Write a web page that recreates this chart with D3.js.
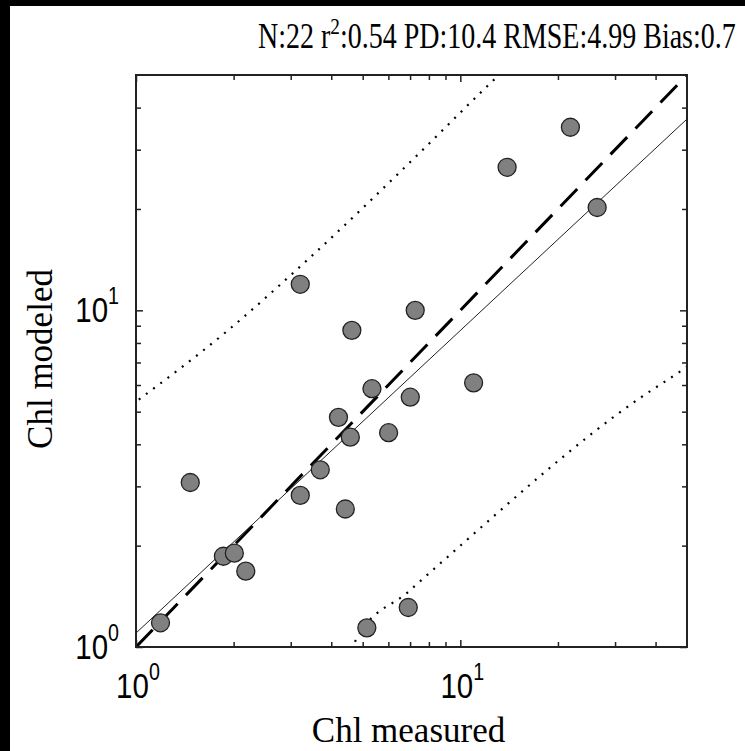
<!DOCTYPE html>
<html>
<head>
<meta charset="utf-8">
<script src="https://cdn.jsdelivr.net/npm/d3@7"></script>
<style>
    body { margin: 0; background: #000; }
</style>
</head>
<body>
<div id="chart"></div>
<script>
// measured vs modeled chlorophyll
const measured = [1.19, 1.47, 1.86, 2.01, 2.18, 3.21, 3.21, 3.70, 4.42, 4.21, 4.58,
    4.63, 5.34, 6.01, 7.01, 7.26, 5.15, 6.91, 10.99, 13.94, 21.85, 26.42];
const modeled = [1.18, 3.08, 1.86, 1.90, 1.68, 2.82, 11.95, 3.36, 2.57, 4.81, 4.20,
    8.72, 5.85, 4.33, 5.52, 10.0, 1.14, 1.31, 6.09, 26.6, 34.98, 20.2];

// 1:1 line, regression fit and the two dotted bounds
const oneToOneX = [1, 50];
const oneToOneY = [1, 50];
const fitX = [1, 50];
const fitY = [1.10, 37.0];
const upperX = [1.02, 1.91, 3.40, 7.26, 12.5, 13.3];
const upperY = [5.43, 8.68, 14.2, 28.5, 47.7, 50.5];
const lowerX = [4.6, 4.80, 6.92, 8.78, 35.9, 48.7, 50];
const lowerY = [0.98, 1.064, 1.46, 1.79, 5.50, 6.68, 6.8];

const majorTicks = [1, 10];
const minorTicks = [2, 3, 4, 5, 6, 7, 8, 9, 20, 30, 40];
const tickExponents = ['0', '1'];

const title = { pre: 'N:22 r', sup: '2', post: ':0.54 PD:10.4 RMSE:4.99 Bias:0.7' };
const xLabel = 'Chl measured';
const yLabel = 'Chl modeled';

const width = 745, height = 751;
const plot = { left: 136, right: 687, top: 75, bottom: 647 };
const squeeze = 0.82;  // the picture is a bit narrower than tall

const svg = d3.select('#chart')
    .append('svg')
    .attr('width', width)
    .attr('height', height)

svg.append('rect').attr('width', width).attr('height', height).attr('fill', '#000')
svg.append('rect')
    .attr('x', 10).attr('y', 6)
    .attr('width', width - 10).attr('height', height - 6)
    .attr('fill', '#fff')

const x = d3.scaleLog().domain([1, 50]).range([plot.left, plot.right]);
const y = d3.scaleLog().domain([1, 50]).range([plot.bottom, plot.top]);

svg.append('clipPath').attr('id', 'clip')
    .append('rect')
    .attr('x', plot.left).attr('y', plot.top)
    .attr('width', plot.right - plot.left).attr('height', plot.bottom - plot.top)

const lines = svg.append('g').attr('clip-path', 'url(#clip)')

const line = d3.line()
    .x(d => x(d[0]))
    .y(d => y(d[1]))
const curve = d3.line()
    .x(d => x(d[0]))
    .y(d => y(d[1]))
    .curve(d3.curveMonotoneX)

lines.append('path')
    .datum(d3.zip(upperX, upperY))
    .attr('d', curve)
    .attr('fill', 'none').attr('stroke', '#000')
    .attr('stroke-width', 2.2).attr('stroke-dasharray', '2,7')
lines.append('path')
    .datum(d3.zip(lowerX, lowerY))
    .attr('d', curve)
    .attr('fill', 'none').attr('stroke', '#000')
    .attr('stroke-width', 2.2).attr('stroke-dasharray', '2,7')

lines.append('path')
    .datum(d3.zip(fitX, fitY))
    .attr('d', line)
    .attr('fill', 'none').attr('stroke', '#222').attr('stroke-width', 1)

lines.append('path')
    .datum(d3.zip(oneToOneX, oneToOneY))
    .attr('d', line)
    .attr('fill', 'none').attr('stroke', '#000')
    .attr('stroke-width', 3).attr('stroke-dasharray', '24,12')

svg.append('g')
    .selectAll('circle')
    .data(d3.zip(measured, modeled))
    .enter()
    .append('circle')
    .attr('cx', d => x(d[0]))
    .attr('cy', d => y(d[1]))
    .attr('r', 9)
    .attr('fill', '#808080')
    .attr('stroke', '#222')
    .attr('stroke-width', 1.3)

// ticks point inward on all four sides, minor ones shorter
function ticks(axis, at, scale, values, size) {
    svg.append('g')
        .attr('transform', at)
        .call(axis(scale).tickValues(values).tickSize(size).tickFormat(''))
        .call(g => g.select('.domain').remove())
        .call(g => g.selectAll('line').attr('stroke', '#222').attr('stroke-width', 1.5))
}
ticks(d3.axisBottom, `translate(0,${plot.bottom})`, x, majorTicks, -7)
ticks(d3.axisBottom, `translate(0,${plot.bottom})`, x, minorTicks, -5)
ticks(d3.axisTop, `translate(0,${plot.top})`, x, majorTicks, -7)
ticks(d3.axisTop, `translate(0,${plot.top})`, x, minorTicks, -5)
ticks(d3.axisLeft, `translate(${plot.left},0)`, y, majorTicks, -7)
ticks(d3.axisLeft, `translate(${plot.left},0)`, y, minorTicks, -5)
ticks(d3.axisRight, `translate(${plot.right},0)`, y, majorTicks, -7)
ticks(d3.axisRight, `translate(${plot.right},0)`, y, minorTicks, -5)

svg.append('rect')
    .attr('x', plot.left).attr('y', plot.top)
    .attr('width', plot.right - plot.left).attr('height', plot.bottom - plot.top)
    .attr('fill', 'none').attr('stroke', '#222').attr('stroke-width', 2)

function powerLabel(px, py, exp, anchor) {
    const t = svg.append('text')
        .attr('transform', `translate(${px},${py}) scale(${squeeze},1)`)
        .attr('font-family', '"Liberation Sans", Arial, sans-serif')
        .attr('font-size', 36)
        .attr('text-anchor', anchor)
        .attr('fill', '#000')
    t.append('tspan').text('10')
    t.append('tspan').attr('font-size', 24).attr('dy', -18).text(exp)
}
majorTicks.forEach((v, i) => {
    powerLabel(x(v) + 2, 698, tickExponents[i], 'middle')
    powerLabel(plot.left - 17, y(v) + 12, tickExponents[i], 'end')
})

const serif = '"Liberation Serif", "Times New Roman", serif';
const titleText = svg.append('text')
    .attr('transform', `translate(258,48) scale(0.8,1)`)
    .attr('font-family', serif)
    .attr('font-size', 35)
    .attr('fill', '#000')
titleText.append('tspan').text(title.pre)
titleText.append('tspan').attr('font-size', 24).attr('dy', -14).text(title.sup)
titleText.append('tspan').attr('dy', 14).text(title.post)

svg.append('text')
    .attr('x', (plot.left + plot.right) / 2 - 3)
    .attr('y', 742)
    .attr('font-family', serif)
    .attr('font-size', 35)
    .attr('text-anchor', 'middle')
    .text(xLabel)

svg.append('text')
    .attr('transform', `translate(52,${(plot.top + plot.bottom) / 2 - 2}) rotate(-90)`)
    .attr('font-family', serif)
    .attr('font-size', 35)
    .attr('text-anchor', 'middle')
    .text(yLabel)
</script>
</body>
</html>
